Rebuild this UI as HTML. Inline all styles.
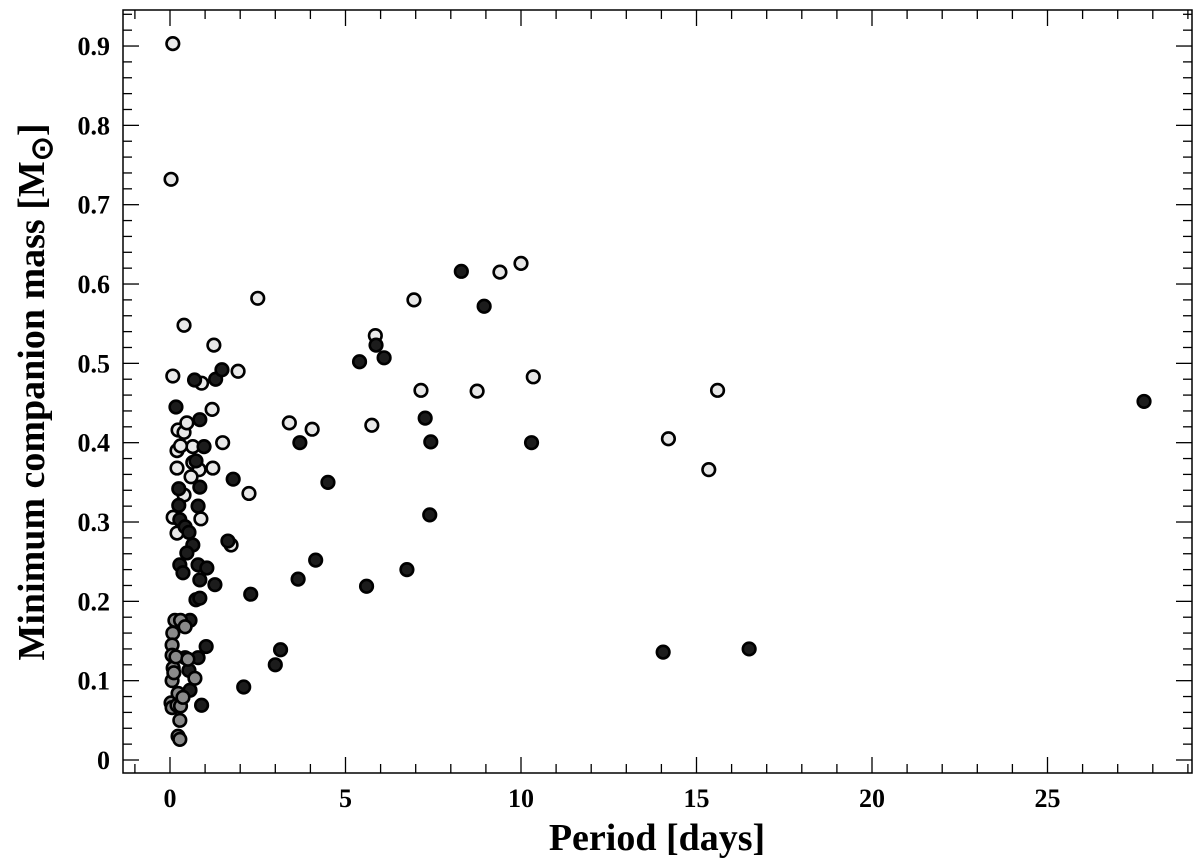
<!DOCTYPE html>
<html><head><meta charset="utf-8"><style>
html,body{margin:0;padding:0;background:#fff;}
svg{display:block;font-family:"Liberation Serif",serif;font-weight:bold;}
</style></head><body>
<svg id="chart" width="1200" height="862" viewBox="0 0 1200 862" xmlns="http://www.w3.org/2000/svg">
<rect x="123" y="10" width="1069" height="763" fill="none" stroke="#000" stroke-width="1.5"/>
<g id="ticks"></g>
<g id="points"></g>
<text x="657" y="850" font-size="38" text-anchor="middle">Period [days]</text>
<text transform="translate(44,392) rotate(-90)" font-size="38" text-anchor="middle">Minimum companion mass [M<tspan font-size="30" dy="8">⊙</tspan><tspan dy="-8">]</tspan></text>
</svg>
<script>
const xTicks=[0,5,10,15,20,25];
const yTicks=[0,0.1,0.2,0.3,0.4,0.5,0.6,0.7,0.8,0.9];
const yTickLabels=["0","0.1","0.2","0.3","0.4","0.5","0.6","0.7","0.8","0.9"];
const lightP=[0.08,0.03,0.08,0.4,1.25,2.5,1.94,0.9,1.2,1.5,3.4,4.05,5.75,5.85,6.95,7.15,9.4,10.0,8.75,10.35,14.2,15.35,15.6,2.25,1.74,1.22,0.88,0.09,0.2,0.2,0.23,0.4,0.2,0.65,0.48,0.3,0.4,0.65,0.83,0.6];
const lightM=[0.903,0.732,0.484,0.548,0.523,0.582,0.49,0.475,0.442,0.40,0.425,0.417,0.422,0.535,0.58,0.466,0.615,0.626,0.465,0.483,0.405,0.366,0.466,0.336,0.271,0.368,0.304,0.306,0.286,0.39,0.416,0.413,0.368,0.395,0.425,0.396,0.334,0.375,0.366,0.357];
const darkP=[0.17,0.7,1.3,1.48,0.85,0.97,0.74,0.85,0.8,0.25,0.25,0.28,0.43,0.54,0.65,0.48,0.28,0.37,0.8,1.05,0.85,0.74,0.85,1.28,1.8,1.65,2.3,3.7,3.65,4.15,4.5,5.4,5.87,6.1,5.6,6.75,7.27,7.43,7.4,8.3,8.95,10.3,2.1,3.0,3.15,14.05,16.5,27.75,1.03,0.9,0.8,0.43,0.54,0.57,0.57];
const darkM=[0.445,0.479,0.48,0.492,0.429,0.395,0.377,0.344,0.32,0.342,0.321,0.303,0.294,0.287,0.271,0.261,0.246,0.236,0.246,0.242,0.227,0.202,0.204,0.221,0.354,0.276,0.209,0.4,0.228,0.252,0.35,0.502,0.523,0.507,0.219,0.24,0.431,0.401,0.309,0.616,0.572,0.4,0.092,0.12,0.139,0.136,0.14,0.452,0.143,0.069,0.129,0.129,0.113,0.088,0.176];
const grayP=[0.14,0.08,0.06,0.06,0.09,0.06,0.03,0.06,0.23,0.3,0.43,0.2,0.3,0.28,0.23,0.28,0.17,0.11,0.71,0.37,0.51];
const grayM=[0.176,0.16,0.145,0.132,0.116,0.1,0.072,0.066,0.084,0.176,0.168,0.069,0.068,0.05,0.03,0.026,0.13,0.11,0.103,0.079,0.127];

const NS="http://www.w3.org/2000/svg";
function xs(p){return 170+p*35.1;}
function ys(m){return 760-m*793.3;}
function mk(tag,attrs,parent){const e=document.createElementNS(NS,tag);for(const k in attrs)e.setAttribute(k,attrs[k]);parent.appendChild(e);return e;}
const tg=document.getElementById('ticks');
// x minor ticks every 1 day
for(let d=-1;d<=29;d++){
  const x=xs(d); if(x<124||x>1191)continue;
  const len=(d%5===0)?16:9;
  const a=mk('line',{x1:x,y1:773,x2:x,y2:773-len,stroke:'#000','stroke-width':1.3},tg);
  
  
  const b=mk('line',{x1:x,y1:10,x2:x,y2:10+len,stroke:'#000','stroke-width':1.3},tg);
  
  
}
for(let i=-1;i<=47;i++){
  const m=i*0.02, y=ys(m); if(y<11||y>772)continue;
  const len=(i%5===0)?16:9;
  const a=mk('line',{x1:123,y1:y,x2:123+len,y2:y,stroke:'#000','stroke-width':1.3},tg);
  
  
  const b=mk('line',{x1:1192,y1:y,x2:1192-len,y2:y,stroke:'#000','stroke-width':1.3},tg);
  
  
}
xTicks.forEach(t=>{
  const e=mk('text',{x:xs(t),y:807,'font-size':26,'text-anchor':'middle'},tg);
  e.textContent=String(t);
  
  
});
yTicks.forEach((t,i)=>{
  const e=mk('text',{x:110,y:ys(t)+9,'font-size':26,'text-anchor':'end'},tg);
  e.textContent=yTickLabels[i];
  
  
});
const pg=document.getElementById('points');
function series(P,M,fill,name){
  for(let i=0;i<P.length;i++){
    const c=mk('circle',{cx:xs(P[i]),cy:ys(M[i]),r:6.3,fill:fill,stroke:'#000','stroke-width':2.6},pg);
    
    
  }
}
series(lightP,lightM,'#e8e8e8','point-light');
series(darkP,darkM,'#1c1c1c','point-dark');
series(grayP,grayM,'#8a8a8a','point-gray');
</script>
</body></html>
